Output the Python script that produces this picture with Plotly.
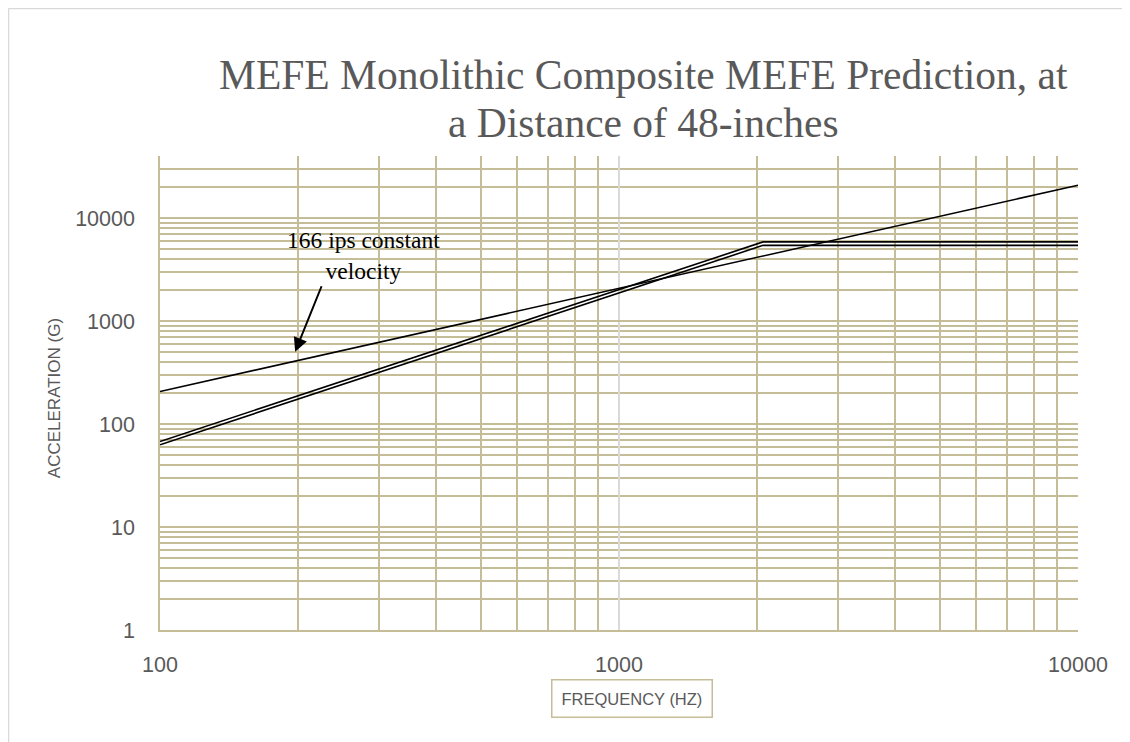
"""
MEFE prediction chart: acceleration vs frequency on log-log axes.
"""

import math
import plotly.graph_objects as go

# Series (Hz, G)
FREQ_VELOCITY = [100, 10000]
ACC_VELOCITY = [207, 20800]  # 166 ips constant velocity

FREQ_KNEE = [100, 2060, 10000]
ACC_UPPER = [67.6, 5860, 5860]
ACC_LOWER = [62.8, 5430, 5430]

X_TICKS = [100, 1000, 10000]
Y_TICKS = [1, 10, 100, 1000, 10000]
Y_MAX = 40000

TITLE_LINES = ["MEFE Monolithic Composite MEFE Prediction, at", "a Distance of 48-inches"]
NOTE = "166 ips constant<br>velocity"

TAN = "#c4bd97"
GREY = "#595959"
LIGHT = "#d9d9d9"

fig = go.Figure()
for xs, ys in [(FREQ_VELOCITY, ACC_VELOCITY), (FREQ_KNEE, ACC_UPPER), (FREQ_KNEE, ACC_LOWER)]:
    fig.add_trace(go.Scatter(x=xs, y=ys, mode="lines",
                             line=dict(color="black", width=1.6), showlegend=False))

tick_font = dict(family="Liberation Sans", size=21.5, color=GREY)

fig.update_layout(
    width=1130, height=742,
    margin=dict(l=152, r=60, t=148, b=120),
    paper_bgcolor="white", plot_bgcolor="white",
    xaxis=dict(type="log", range=[2, 4], tickvals=X_TICKS, ticktext=[str(v) for v in X_TICKS],
               showgrid=True, gridcolor=LIGHT, gridwidth=1.5,
               minor=dict(dtick="D1", showgrid=True, gridcolor=TAN, gridwidth=1.5, ticks=""),
               showline=True, linecolor=TAN, linewidth=1.5,
               ticks="outside", ticklen=14, tickcolor="rgba(0,0,0,0)",
               tickfont=tick_font, zeroline=False),
    yaxis=dict(type="log", range=[0, math.log10(Y_MAX)], tickvals=Y_TICKS,
               ticktext=[str(v) for v in Y_TICKS],
               showgrid=True, gridcolor=TAN, gridwidth=1.5,
               minor=dict(dtick="D1", showgrid=True, gridcolor=TAN, gridwidth=1.5, ticks=""),
               showline=True, linecolor=TAN, linewidth=1.5,
               ticks="outside", ticklen=19, tickcolor="rgba(0,0,0,0)",
               tickfont=tick_font, zeroline=False),
)

# Two-line title, set as annotations to get the tighter line spacing of the original
for line, ypos in zip(TITLE_LINES, [1.171, 1.07]):
    fig.add_annotation(text=line, xref="paper", yref="paper", x=0.527, y=ypos,
                       xanchor="center", yanchor="middle", showarrow=False,
                       font=dict(family="Liberation Serif", size=41.5, color=GREY))

# Axis titles
fig.add_annotation(text="FREQUENCY (HZ)", xref="paper", yref="paper", x=0.514, y=-0.1435,
                   xanchor="center", yanchor="middle", showarrow=False,
                   font=dict(family="Liberation Sans", size=16.5, color=GREY),
                   bordercolor=TAN, borderwidth=1.5, borderpad=9, bgcolor="white")
fig.add_annotation(text="ACCELERATION (G)", xref="paper", yref="paper", x=-0.115, y=0.49,
                   xanchor="center", yanchor="middle", showarrow=False, textangle=-90,
                   font=dict(family="Liberation Sans", size=17, color=GREY))

# Callout
fig.add_annotation(text=NOTE, x=math.log10(278), y=math.log10(4300), xref="x", yref="y",
                   showarrow=False, align="center",
                   font=dict(family="Liberation Serif", size=23.5, color="black"))
fig.add_annotation(text="", x=math.log10(197), y=math.log10(503), xref="x", yref="y",
                   ax=27, ay=-67, showarrow=True, arrowhead=2, arrowsize=1.4,
                   arrowwidth=2, arrowcolor="black")

# Chart-area border (left and top edges visible in the reference)
fig.add_shape(type="line", xref="paper", yref="paper", x0=-0.165, x1=-0.165, y0=-0.3, y1=1.311,
              line=dict(color=LIGHT, width=1.5))
fig.add_shape(type="line", xref="paper", yref="paper", x0=-0.165, x1=1.2, y0=1.311, y1=1.311,
              line=dict(color=LIGHT, width=1.5))

fig.write_html("out.html")
